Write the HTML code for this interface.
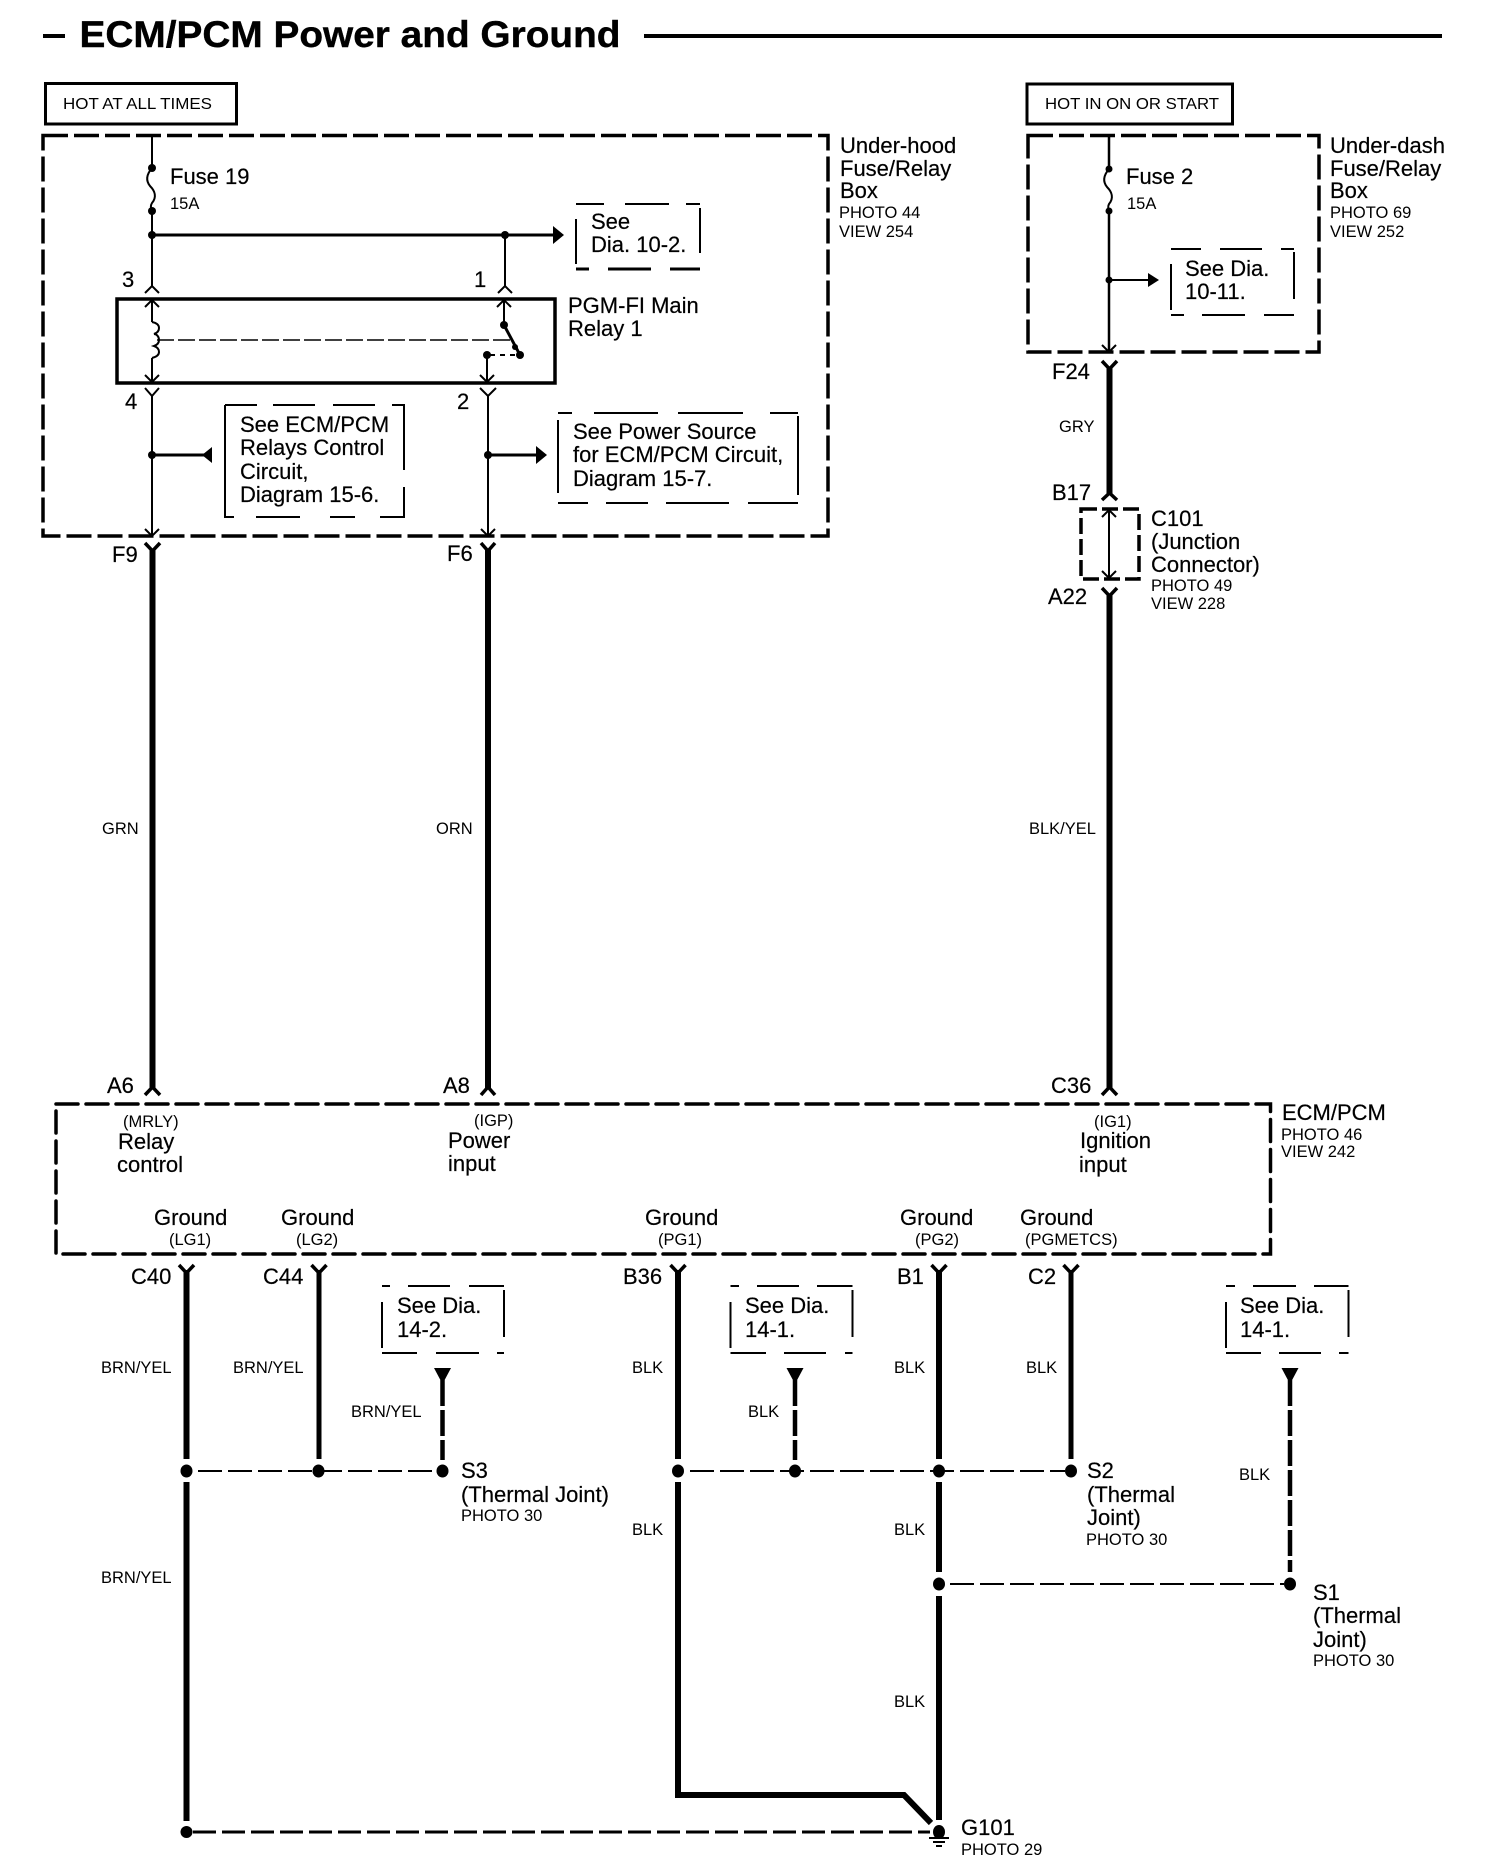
<!DOCTYPE html>
<html><head><meta charset="utf-8"><style>
html,body{margin:0;padding:0;background:#fff}
svg{display:block}
text{font-family:"Liberation Sans",sans-serif;fill:#000}
.t{font-size:22px;stroke:#000;stroke-width:.2px}.s{font-size:16.500px}.l{font-size:16px}
</style></head><body>
<svg width="1504" height="1868" viewBox="0 0 1504 1868" xmlns="http://www.w3.org/2000/svg">
<rect width="1504" height="1868" fill="#fff"/>
<!-- title -->
<rect x="43" y="34" width="22" height="4"/>
<text x="79.500" y="47" font-weight="bold" font-size="37" textLength="541" lengthAdjust="spacingAndGlyphs" stroke="#000" stroke-width=".4">ECM/PCM Power and Ground</text>
<rect x="644" y="34" width="798" height="4"/>
<!-- hot boxes -->
<rect x="45.500" y="83.500" width="191" height="40.500" fill="none" stroke="#000" stroke-width="3"/>
<text x="63" y="109" class="l" textLength="149" lengthAdjust="spacingAndGlyphs">HOT AT ALL TIMES</text>
<rect x="1027" y="84" width="205.500" height="40" fill="none" stroke="#000" stroke-width="3"/>
<text x="1045" y="109" class="l" textLength="174" lengthAdjust="spacingAndGlyphs">HOT IN ON OR START</text>
<!-- big dashed boxes -->
<g fill="none" stroke="#000" stroke-width="3.500" stroke-dasharray="25 6">
<rect x="43" y="135.500" width="785" height="400.500"/>
<rect x="1028" y="135.500" width="291" height="216.500"/>
<rect x="1081" y="509" width="58" height="70" stroke-dasharray="16 5"/>
<rect x="56" y="1104" width="1214.500" height="150" stroke-linecap="round" stroke-dasharray="22 8"/>
</g>
<!-- thin wires -->
<g fill="none" stroke="#000" stroke-width="2">
<path d="M152 136V168M152 211V287"/>
<path d="M152 168C146 175 146 181 150 186C155 191 157 197 152 203C150 206 151 209 152 211"/>
<path d="M505 235V287"/>
<path d="M145 293L152 286L159 293M498 293L505 286L512 293"/>
<path d="M145 307L152 300L159 307M497 307L504 300L511 307"/>
<path d="M152 300V322M152 358V382"/>
<path d="M152 322c5 1 7 3 7 6s-2 5-5 6c3 0 5 3 5 6s-2 5-5 6c3 1 5 3 5 6s-3 5-7 6"/>
<path d="M145 375L152 382L159 375M480 375L487 382L494 375"/>
<path d="M145 388L152 396L159 388M480 388L488 396L496 388"/>
<path d="M152 396V536M488 396V536M487 355V382"/>
<path d="M145 529L152 536L159 529M481 529L488 536L495 529"/>
<path d="M157 340H510" stroke-width="1.500" stroke-dasharray="17 4"/>
<path d="M490 355H520" stroke-dasharray="5 5"/>
<path d="M504 300V325" />
<path d="M1109 136V169M1109 211V352" stroke-width="2.500"/>
<path d="M1109 169C1103 176 1103 182 1107 187C1112 192 1114 198 1109 204C1108 206 1108 209 1109 211"/>
<path d="M1102 345L1109 352L1116 345"/>
<path d="M1109 510V578M1102 517L1109 510L1116 517M1102 571L1109 578L1116 571"/>
<path d="M1109 280H1150"/>
</g>
<path d="M504 325L520 355" stroke="#000" stroke-width="3" fill="none"/>
<g stroke="#000" stroke-width="3" fill="none">
<path d="M152 235H555"/>
<path d="M152 455H205M488 455H538"/>
</g>
<!-- relay -->
<rect x="117" y="299" width="438" height="84" fill="none" stroke="#000" stroke-width="3.500"/>
<!-- arrowheads -->
<path d="M553 226L564 235L553 244Z"/>
<path d="M202 455L212 447V463Z"/>
<path d="M547 455L536 446V464Z"/>
<path d="M1148 273L1159 280L1148 287Z"/>
<!-- dots -->
<g>
<circle cx="152" cy="168" r="4"/><circle cx="152" cy="211" r="4"/><circle cx="152" cy="235" r="4"/><circle cx="505" cy="235" r="4"/>
<circle cx="504" cy="325" r="4"/><circle cx="520" cy="355" r="4"/><circle cx="515" cy="347" r="3"/><circle cx="487" cy="355" r="4"/>
<circle cx="152" cy="455" r="4"/><circle cx="488" cy="455" r="4"/>
<circle cx="1109" cy="169" r="3.500"/><circle cx="1109" cy="211" r="3.500"/><circle cx="1109" cy="280" r="3.500"/>
</g>
<!-- thick wires -->
<g fill="none" stroke="#000" stroke-width="6">
<path d="M152.500 550V1088M488 550V1088M1109.500 368V494M1109.500 595V1088"/>
<path d="M186.500 1270V1459M186.500 1482V1821" stroke-width="6"/>
<path d="M319 1270V1459" stroke-width="5"/>
<path d="M678 1270V1459M678 1482V1795H904L931 1823" stroke-width="6"/>
<path d="M939 1270V1459M939 1482V1572M939 1596V1820" stroke-width="6"/>
<path d="M1071 1270V1459" stroke-width="5"/>
<path d="M442.500 1380V1460" stroke-width="4.500" stroke-dasharray="26 4"/>
<path d="M795 1380V1460" stroke-width="4.500" stroke-dasharray="26 4"/>
<path d="M1290 1380V1572" stroke-width="4.500" stroke-dasharray="26 4"/>
</g>
<!-- Y connectors -->
<g fill="none" stroke="#000" stroke-width="3.500">
<path d="M145 543L152.500 551L160 543M481 543L488 551L495 543"/>
<path d="M1102 361L1109.500 369L1117 361M1102 500L1109.500 493L1117 500M1102 588L1109.500 596L1117 588"/>
<path d="M145 1095L152.500 1087L160 1095M481 1095L488 1087L495 1095M1102 1095L1109.500 1087L1117 1095"/>
<path d="M179 1265L186.500 1273L194 1265M311.500 1265L319 1273L326.500 1265M670.500 1265L678 1273L685.500 1265M931.500 1265L939 1273L946.500 1265M1063.500 1265L1071 1273L1078.500 1265"/>
</g>
<!-- triangle heads -->
<path d="M434 1368H451L442.500 1384Z"/><path d="M786.500 1368H803.500L795 1384Z"/><path d="M1281.500 1368H1298.500L1290 1384Z"/>
<!-- splices -->
<g>
<ellipse cx="186.500" cy="1471" rx="6" ry="6.500"/><ellipse cx="318.500" cy="1471" rx="6" ry="6.500"/><ellipse cx="442.500" cy="1471" rx="6" ry="6.500"/>
<ellipse cx="678" cy="1471" rx="6" ry="6.500"/><ellipse cx="795" cy="1471" rx="6" ry="6.500"/><ellipse cx="939" cy="1471" rx="6" ry="6.500"/><ellipse cx="1071" cy="1471" rx="6" ry="6.500"/>
<ellipse cx="939" cy="1584" rx="6" ry="6.500"/><ellipse cx="1290" cy="1584" rx="6" ry="6.500"/>
<ellipse cx="186.500" cy="1832" rx="6" ry="6"/><ellipse cx="939" cy="1832" rx="6" ry="7"/>
<rect x="929" y="1837" width="20" height="2"/><rect x="933" y="1841" width="12" height="2"/><rect x="936" y="1845" width="6" height="2"/>
</g>
<!-- dashed joins -->
<g fill="none" stroke="#000" stroke-width="2">
<path d="M198 1471H436" stroke-dasharray="24 6"/>
<path d="M690 1471H1065" stroke-dasharray="24 6"/>
<path d="M950 1584H1284" stroke-dasharray="24 6"/>
<path d="M193 1832H930" stroke-width="3" stroke-dasharray="23 6"/>
</g>
<!-- reference boxes -->
<g fill="none" stroke="#000" stroke-width="2">
<path d="M576 204H604M625 204H669M686 204H700"/><path d="M576 269H589M608 269H651M670 269H700" stroke-width="3"/><path d="M576 219V264M700 208V253"/>
<path d="M225 405H257M273 405H315M333 405H375M392 405H404V470M404 487V517H380M355 517H330M300 517H256M234 517H225V405"/>
<path d="M558 413H572M594 413H658M678 413H743M770 413H798M558 503H588M606 503H648M666 503H729M748 503H798M558 420V493M798 416V495"/>
<path d="M1171 249H1201M1220 249H1262M1281 249H1294M1171 315H1184M1202 315H1245M1264 315H1294M1171 264V310M1294 252V299"/>
<path d="M382 1286H390M408 1286H450M469 1286H504M382 1353H417M436 1353H479M497 1353H504M382 1302V1348M504 1290V1337"/>
<path d="M730.500 1286H739M757 1286H799M817 1286H852.500M730.500 1353H766M784 1353H826M845 1353H852.500M730.500 1302V1348M852.500 1290V1337"/>
<path d="M1226 1286H1235M1253 1286H1296M1314 1286H1348.500M1226 1353H1261M1279 1353H1321M1339 1353H1348.500M1226 1302V1348M1348.500 1290V1337"/>
</g>
<!-- text -->
<text x="170" y="184" class="t">Fuse 19</text><text x="170" y="209" class="s">15A</text>
<text x="591" y="229" class="t">See</text><text x="591" y="252" class="t">Dia. 10-2.</text>
<text x="122" y="287" class="t">3</text><text x="474" y="287" class="t">1</text><text x="125" y="409" class="t">4</text><text x="457" y="409" class="t">2</text>
<text x="568" y="313" class="t">PGM-FI Main</text><text x="568" y="336" class="t">Relay 1</text>
<text x="240" y="432" class="t">See ECM/PCM</text><text x="240" y="455" class="t">Relays Control</text><text x="240" y="479" class="t">Circuit,</text><text x="240" y="502" class="t">Diagram 15-6.</text>
<text x="573" y="439" class="t">See Power Source</text><text x="573" y="462" class="t">for ECM/PCM Circuit,</text><text x="573" y="486" class="t">Diagram 15-7.</text>
<text x="840" y="153" class="t">Under-hood</text><text x="840" y="176" class="t">Fuse/Relay</text><text x="840" y="198" class="t">Box</text><text x="839" y="218" class="s">PHOTO 44</text><text x="839" y="237" class="s">VIEW 254</text>
<text x="1330" y="153" class="t">Under-dash</text><text x="1330" y="176" class="t">Fuse/Relay</text><text x="1330" y="198" class="t">Box</text><text x="1330" y="218" class="s">PHOTO 69</text><text x="1330" y="237" class="s">VIEW 252</text>
<text x="1126" y="184" class="t">Fuse 2</text><text x="1127" y="209" class="s">15A</text>
<text x="1185" y="276" class="t">See Dia.</text><text x="1185" y="299" class="t">10-11.</text>
<text x="1052" y="379" class="t">F24</text><text x="1059" y="432" class="s">GRY</text><text x="1052" y="500" class="t">B17</text><text x="1048" y="604" class="t">A22</text>
<text x="1151" y="526" class="t">C101</text><text x="1151" y="549" class="t">(Junction</text><text x="1151" y="572" class="t">Connector)</text><text x="1151" y="591" class="s">PHOTO 49</text><text x="1151" y="609" class="s">VIEW 228</text>
<text x="112" y="562" class="t">F9</text><text x="447" y="561" class="t">F6</text>
<text x="102" y="834" class="s">GRN</text><text x="436" y="834" class="s">ORN</text><text x="1029" y="834" class="s">BLK/YEL</text>
<text x="107" y="1093" class="t">A6</text><text x="443" y="1093" class="t">A8</text><text x="1051" y="1093" class="t">C36</text>
<text x="123" y="1127" class="s">(MRLY)</text><text x="118" y="1149" class="t">Relay</text><text x="117" y="1172" class="t">control</text>
<text x="474" y="1126" class="s">(IGP)</text><text x="448" y="1148" class="t">Power</text><text x="448" y="1171" class="t">input</text>
<text x="1094" y="1127" class="s">(IG1)</text><text x="1080" y="1148" class="t">Ignition</text><text x="1079" y="1172" class="t">input</text>
<text x="1282" y="1120" class="t">ECM/PCM</text><text x="1281" y="1140" class="s">PHOTO 46</text><text x="1281" y="1157" class="s">VIEW 242</text>
<text x="154" y="1225" class="t">Ground</text><text x="281" y="1225" class="t">Ground</text><text x="645" y="1225" class="t">Ground</text><text x="900" y="1225" class="t">Ground</text><text x="1020" y="1225" class="t">Ground</text>
<text x="169" y="1245" class="s">(LG1)</text><text x="296" y="1245" class="s">(LG2)</text><text x="658" y="1245" class="s">(PG1)</text><text x="915" y="1245" class="s">(PG2)</text><text x="1025" y="1245" class="s">(PGMETCS)</text>
<text x="131" y="1284" class="t">C40</text><text x="263" y="1284" class="t">C44</text><text x="623" y="1284" class="t">B36</text><text x="897" y="1284" class="t">B1</text><text x="1028" y="1284" class="t">C2</text>
<text x="101" y="1373" class="s">BRN/YEL</text><text x="233" y="1373" class="s">BRN/YEL</text><text x="351" y="1417" class="s">BRN/YEL</text>
<text x="632" y="1373" class="s">BLK</text><text x="894" y="1373" class="s">BLK</text><text x="1026" y="1373" class="s">BLK</text><text x="748" y="1417" class="s">BLK</text><text x="1239" y="1480" class="s">BLK</text>
<text x="397" y="1313" class="t">See Dia.</text><text x="397" y="1337" class="t">14-2.</text>
<text x="745" y="1313" class="t">See Dia.</text><text x="745" y="1337" class="t">14-1.</text>
<text x="1240" y="1313" class="t">See Dia.</text><text x="1240" y="1337" class="t">14-1.</text>
<text x="461" y="1478" class="t">S3</text><text x="461" y="1502" class="t">(Thermal Joint)</text><text x="461" y="1521" class="s">PHOTO 30</text>
<text x="1087" y="1478" class="t">S2</text><text x="1087" y="1502" class="t">(Thermal</text><text x="1087" y="1525" class="t">Joint)</text><text x="1086" y="1545" class="s">PHOTO 30</text>
<text x="1313" y="1600" class="t">S1</text><text x="1313" y="1623" class="t">(Thermal</text><text x="1313" y="1647" class="t">Joint)</text><text x="1313" y="1666" class="s">PHOTO 30</text>
<text x="101" y="1583" class="s">BRN/YEL</text><text x="632" y="1535" class="s">BLK</text><text x="894" y="1535" class="s">BLK</text><text x="894" y="1707" class="s">BLK</text>
<text x="961" y="1835" class="t">G101</text><text x="961" y="1855" class="s">PHOTO 29</text>
</svg>
</body></html>
